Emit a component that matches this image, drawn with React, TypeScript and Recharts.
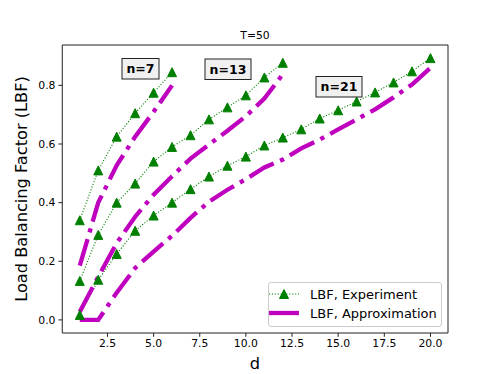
import React from "react";
import { LineChart, Line, XAxis, YAxis, ReferenceLine } from "recharts";

// d values (number of choices) for each system size
const d7 = [1, 2, 3, 4, 5, 6];
const d13 = [1, 2, 3, 4, 5, 6, 7, 8, 9, 10, 11, 12];
const d21 = [1, 2, 3, 4, 5, 6, 7, 8, 9, 10, 11, 12, 13, 14, 15, 16, 17, 18, 19, 20];

// LBF measured in experiment
const exp7 = [0.34, 0.51, 0.625, 0.705, 0.775, 0.845];
const exp13 = [0.133, 0.29, 0.4, 0.465, 0.54, 0.59, 0.63, 0.684, 0.725, 0.766, 0.827, 0.877];
const exp21 = [
  0.017, 0.137, 0.225, 0.304, 0.356, 0.4, 0.446, 0.489, 0.526, 0.557,
  0.595, 0.622, 0.65, 0.687, 0.715, 0.745, 0.776, 0.81, 0.848, 0.893,
];

// LBF from the approximation
const approx7 = [0.185, 0.4, 0.527, 0.625, 0.71, 0.8];
const approx13 = [0.028, 0.147, 0.262, 0.352, 0.427, 0.49, 0.55, 0.598, 0.645, 0.695, 0.755, 0.838];
const approx21 = [
  0, 0, 0.093, 0.177, 0.233, 0.287, 0.348, 0.403, 0.444, 0.48,
  0.52, 0.547, 0.585, 0.615, 0.65, 0.684, 0.718, 0.759, 0.803, 0.86,
];

const xTicks = [2.5, 5, 7.5, 10, 12.5, 15, 17.5, 20];
const yTicks = [0, 0.2, 0.4, 0.6, 0.8];

const GREEN = "#008000";
const MAGENTA = "#bf00bf";
const FONT = "DejaVu Sans";

const toPoints = (ds: number[], ys: number[]) => ds.map((d, i) => ({ d, y: ys[i] }));

const Triangle = (props: any) => {
  const { cx, cy, index } = props;
  if (cx == null || cy == null) return <g key={index} />;
  return (
    <polygon
      key={index}
      points={`${cx},${cy - 4.5} ${cx - 4.5},${cy + 4.5} ${cx + 4.5},${cy + 4.5}`}
      fill={GREEN}
      stroke={GREEN}
      strokeWidth={1}
      strokeLinejoin="miter"
    />
  );
};

const series = [
  { ds: d7, exp: exp7, approx: approx7 },
  { ds: d13, exp: exp13, approx: approx13 },
  { ds: d21, exp: exp21, approx: approx21 },
];

const tickStyle = { fill: "#000", fontSize: 10.8, fontFamily: FONT };

const App = () => {
  return (
    <div style={{ position: "absolute", left: 0, top: 0, width: 498, height: 374, background: "#fff" }}>
      <LineChart width={498} height={374} margin={{ top: 45, right: 50, bottom: 0, left: 0 }}>
        <XAxis
          type="number"
          dataKey="d"
          domain={[0.05, 20.95]}
          ticks={xTicks}
          tickFormatter={(v: number) => v.toFixed(1)}
          allowDataOverflow
          height={41}
          tick={tickStyle}
          tickSize={3.8}
          tickMargin={3}
          stroke="#222"
        />
        <YAxis
          type="number"
          domain={[-0.0447, 0.9377]}
          ticks={yTicks}
          tickFormatter={(v: number) => v.toFixed(1)}
          allowDataOverflow
          width={62.25}
          tick={tickStyle}
          tickSize={3.8}
          tickMargin={3}
          stroke="#222"
        />
        <ReferenceLine y={0.9377} stroke="#222" ifOverflow="extendDomain" />
        <ReferenceLine x={20.95} stroke="#222" ifOverflow="extendDomain" />
        {series.map((s, i) => (
          <Line
            key={`exp-${i}`}
            data={toPoints(s.ds, s.exp)}
            dataKey="y"
            type="linear"
            stroke={GREEN}
            strokeWidth={1.1}
            strokeDasharray="1.1 1.8"
            dot={Triangle}
            activeDot={false}
            isAnimationActive={false}
          />
        ))}
        {series.map((s, i) => (
          <Line
            key={`approx-${i}`}
            data={toPoints(s.ds, s.approx)}
            dataKey="y"
            type="linear"
            stroke={MAGENTA}
            strokeWidth={4.3}
            strokeDasharray="27.7 6.9 4.3 6.9"
            strokeLinecap="butt"
            dot={false}
            activeDot={false}
            isAnimationActive={false}
          />
        ))}
      </LineChart>
      <svg
        width={498}
        height={374}
        style={{ position: "absolute", left: 0, top: 0, pointerEvents: "none" }}
        fontFamily={FONT}
      >
        <text x={255} y={38.5} fontSize={10.8} textAnchor="middle" fill="#000">T=50</text>
        <text x={255} y={369} fontSize={16.2} textAnchor="middle" fill="#000">d</text>
        <text
          transform="translate(27,189) rotate(-90)"
          fontSize={16.2}
          textAnchor="middle"
          fill="#000"
        >
          Load Balancing Factor (LBF)
        </text>

        <rect x={122} y={58.5} width={37} height={20.5} fill="#f0f0f0" stroke="#222" strokeWidth={1} />
        <text x={140.5} y={73} fontSize={12.5} fontWeight="bold" textAnchor="middle" fill="#000">n=7</text>
        <rect x={205} y={59} width={46} height={20.5} fill="#f0f0f0" stroke="#222" strokeWidth={1} />
        <text x={228} y={73.5} fontSize={12.5} fontWeight="bold" textAnchor="middle" fill="#000">n=13</text>
        <rect x={316} y={76.5} width={46} height={20.5} fill="#f0f0f0" stroke="#222" strokeWidth={1} />
        <text x={339} y={91} fontSize={12.5} fontWeight="bold" textAnchor="middle" fill="#000">n=21</text>

        <rect x={268.5} y={282.5} width={173} height={44} rx={2.5} fill="#fff" fillOpacity={0.8} stroke="#ccc" />
        <line x1={269} y1={294} x2={299} y2={294} stroke={GREEN} strokeWidth={1.1} strokeDasharray="1.1 1.8" />
        <polygon points="284,289.5 279.5,298.5 288.5,298.5" fill={GREEN} stroke={GREEN} strokeWidth={1} />
        <text x={310} y={298.5} fontSize={13} fill="#000">LBF, Experiment</text>
        <line x1={269} y1={313} x2={299} y2={313} stroke={MAGENTA} strokeWidth={4.3} />
        <text x={310} y={317.5} fontSize={13} fill="#000">LBF, Approximation</text>
      </svg>
    </div>
  );
};

export default App;
